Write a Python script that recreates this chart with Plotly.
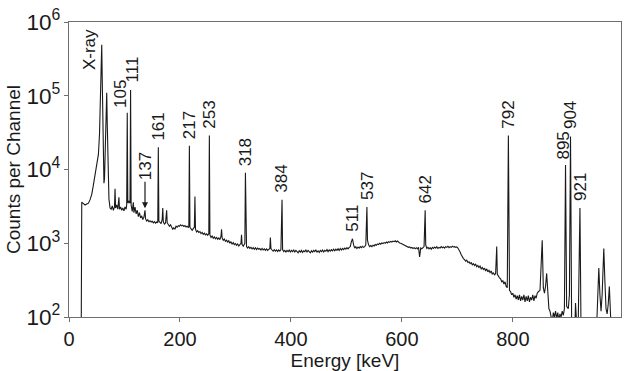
import math
import plotly.graph_objects as go

# ---- spectrum data (energy in keV, counts per channel) ----
energy_kev = [
    22, 23, 26, 29, 32, 35, 38, 41, 44, 47, 50, 53, 55, 57, 59, 60, 61, 62, 63, 64, 66, 68, 69, 71, 72, 74,
    76, 78, 80, 82, 83, 84, 86, 88, 90, 91, 93, 95, 97, 99, 101, 103, 104, 105, 106, 108, 110, 111, 112, 114,
    116, 117, 119, 121, 123, 125, 127, 129, 131, 133, 135, 137, 138, 140, 142, 144, 146, 148, 150, 152,
    154, 156, 158, 160, 161, 162, 164, 166, 168, 169, 170, 172, 174, 176, 177, 179, 181, 183, 185, 187,
    189, 191, 193, 195, 197, 199, 201, 203, 205, 207, 209, 211, 213, 215, 216, 217, 218, 220, 222, 224,
    226, 227, 228, 230, 232, 234, 236, 238, 240, 242, 244, 246, 248, 250, 252, 253, 254, 256, 258, 260,
    262, 264, 266, 268, 270, 272, 274, 275, 276, 278, 280, 282, 284, 286, 288, 290, 292, 294, 296, 298,
    300, 302, 304, 306, 308, 310, 311, 312, 314, 316, 317, 318, 319, 320, 322, 324, 326, 328, 330, 332,
    334, 336, 338, 340, 342, 344, 346, 348, 350, 352, 354, 356, 358, 360, 362, 363, 364, 366, 368, 370,
    372, 374, 376, 378, 380, 382, 384, 385, 387, 389, 391, 393, 395, 397, 399, 401, 403, 405, 407, 409,
    411, 413, 415, 417, 419, 421, 423, 425, 427, 429, 431, 433, 435, 437, 439, 441, 443, 445, 447, 449,
    451, 453, 455, 457, 459, 461, 463, 465, 467, 469, 471, 473, 475, 477, 479, 481, 483, 485, 487, 489,
    491, 493, 495, 497, 499, 501, 503, 505, 507, 509, 511, 513, 515, 517, 519, 521, 523, 525, 527, 529,
    531, 533, 535, 537, 538, 540, 542, 544, 546, 548, 550, 552, 554, 556, 558, 560, 562, 564, 566, 568,
    570, 572, 574, 576, 578, 580, 582, 584, 586, 588, 590, 592, 594, 596, 598, 600, 602, 604, 606, 608,
    610, 612, 614, 616, 618, 620, 622, 624, 626, 628, 630, 632, 634, 636, 638, 640, 642, 643, 645, 647,
    649, 651, 653, 655, 657, 659, 661, 663, 665, 667, 669, 671, 673, 675, 677, 679, 681, 683, 685, 687,
    689, 691, 693, 695, 697, 699, 701, 703, 705, 707, 709, 711, 713, 715, 717, 719, 721, 723, 725, 727,
    729, 731, 733, 735, 737, 739, 741, 743, 745, 747, 749, 751, 753, 755, 757, 759, 761, 763, 765, 767,
    769, 771, 772, 774, 776, 778, 780, 782, 784, 786, 788, 790, 792, 794, 796, 798, 800, 802, 804, 806,
    808, 810, 812, 814, 816, 818, 820, 822, 824, 826, 828, 830, 832, 834, 836, 838, 840, 842, 844, 846,
    849, 853, 855, 857, 859, 861, 863, 865, 867, 869, 871, 873, 875, 877, 879, 881, 883, 885, 887, 889,
    891, 893, 895, 897, 900, 902, 904, 906, 908, 910, 912, 913, 914, 916, 918, 921, 923, 925, 930, 940,
    946, 949, 951, 953, 955, 957, 959, 961, 964, 966, 968, 970, 972, 974, 976, 978,
]
counts = [
    60, 3600, 3450, 3300, 3400, 3500, 3900, 4600, 6200, 8500, 10500, 16000, 30000, 120000, 490000, 150000, 40000, 9000, 6500, 7500, 30000, 110000, 40000, 8000, 4000, 3000,
    2900, 3200, 2800, 3100, 5500, 3000, 3300, 2900, 4200, 2900, 3100, 2800, 3000, 2750, 3100, 2900, 3300, 59000, 3500, 3700, 3500, 120000, 3300, 2700,
    3600, 2600, 3100, 2500, 2800, 2300, 2600, 2200, 2350, 2100, 2250, 2800, 2150, 2000, 2080, 1960, 2020, 1940, 1990, 1890,
    1960, 1870, 1940, 1900, 20000, 2000, 1880, 1840, 2100, 3000, 1950, 1820, 1880, 2800, 1900, 1760, 1700, 1780, 1620, 1550,
    1620, 1560, 1700, 1650, 1730, 1700, 1780, 1720, 1760, 1690, 1740, 1660, 1700, 1640, 1700, 21000, 1650, 1550, 1500, 1580,
    1650, 4300, 1550, 1420, 1480, 1400, 1440, 1350, 1400, 1320, 1370, 1300, 1340, 1280, 1350, 29000, 1300, 1200, 1250, 1170,
    1220, 1150, 1200, 1130, 1180, 1120, 1250, 1550, 1180, 1100, 1140, 1060, 1100, 1040, 1080, 1000, 1050, 970, 1020, 960,
    990, 940, 980, 920, 960, 1000, 1300, 960, 910, 950, 1000, 9000, 1050, 900, 860, 900, 850, 880, 840, 870,
    830, 870, 820, 860, 830, 850, 810, 850, 810, 840, 800, 840, 800, 830, 850, 1200, 850, 810, 780, 820,
    780, 810, 770, 810, 780, 820, 3900, 820, 770, 800, 760, 800, 770, 810, 760, 800, 770, 810, 760, 800,
    780, 740, 790, 760, 800, 750, 790, 770, 810, 760, 800, 770, 740, 790, 760, 800, 770, 810, 760, 790,
    750, 800, 770, 810, 760, 800, 780, 820, 770, 810, 780, 820, 790, 830, 790, 830, 800, 840, 800, 850,
    810, 850, 820, 860, 830, 870, 840, 880, 900, 1050, 1150, 950, 860, 900, 850, 890, 860, 900, 870, 910,
    880, 900, 950, 3100, 1100, 950, 900, 930, 900, 940, 920, 960, 940, 980, 960, 1000, 970, 1010, 990, 1020,
    1000, 1040, 1010, 1050, 1030, 1060, 1040, 1070, 1050, 1080, 1040, 1070, 1030, 1010, 1000, 980, 960, 950, 930, 920,
    900, 880, 890, 860, 880, 850, 870, 840, 870, 840, 880, 650, 860, 840, 870, 900, 2800, 950, 850, 880,
    840, 870, 830, 880, 850, 890, 860, 900, 850, 880, 860, 900, 870, 890, 860, 900, 880, 910, 870, 900,
    880, 910, 890, 900, 880, 890, 860, 820, 760, 700, 650, 620, 600, 570, 590, 550, 560, 530, 545, 510,
    530, 500, 520, 480, 500, 470, 490, 450, 470, 440, 460, 420, 450, 410, 430, 400, 420, 380, 400, 370,
    390, 900, 380, 350, 340, 330, 300, 310, 280, 300, 260, 250, 29000, 230, 220, 200, 210, 185, 200, 175,
    195, 170, 200, 165, 190, 170, 200, 160, 190, 165, 195, 160, 185, 170, 200, 165, 195, 180, 210, 220,
    230, 1100, 250, 210, 260, 390, 200, 130, 120, 105, 85, 115, 100, 120, 95, 115, 90, 110, 100, 120,
    105, 130, 11500, 140, 130, 200, 28000, 90, 70, 100, 80, 155, 70, 60, 90, 3000, 60, 50, 50, 50,
    60, 100, 70, 200, 460, 200, 120, 200, 850, 300, 130, 110, 150, 260, 120, 50,
]

# ---- peak labels ----
label_text = ["X-ray", "105", "111", "137", "161", "217", "253", "318", "384",
              "511", "537", "642", "792", "895", "904", "921"]
label_energy = [59, 105, 111, 137, 161, 217, 253, 318, 384, 511, 537, 642, 792, 895, 904, 921]
label_counts = [490000, 59000, 120000, 2800, 20000, 21000, 29000, 9000, 3900,
                1150, 3100, 2800, 29000, 11500, 28000, 3000]

x_ticks = [0, 200, 400, 600, 800]

# ---- styling ----
FONT = "Liberation Sans, Arial, Helvetica, sans-serif"
AXIS_COLOR = "#6e6e6e"
TEXT_COLOR = "#1a1a1a"
label_offsets = {  # (xshift px, yshift px)
    "X-ray": (-12, -27), "105": (-7, 3), "111": (2, 5), "895": (-3, 3),
}

fig = go.Figure()
fig.add_trace(go.Scatter(
    x=energy_kev, y=counts, mode="lines",
    line=dict(color=TEXT_COLOR, width=1.1), hoverinfo="skip", showlegend=False,
))

for txt, e, c in zip(label_text, label_energy, label_counts):
    ylog = math.log10(c)  # annotations on a log axis are placed in log10 units
    if txt == "137":
        fig.add_annotation(
            x=e, y=ylog, xref="x", yref="y", text=txt, textangle=-90,
            showarrow=True, arrowhead=2, arrowsize=1, arrowwidth=1.2,
            arrowcolor=TEXT_COLOR, ax=0, ay=-44, standoff=2,
            font=dict(family=FONT, size=17, color=TEXT_COLOR),
        )
        continue
    dx, dy = label_offsets.get(txt, (0, 5))
    fig.add_annotation(
        x=e, y=ylog, xref="x", yref="y", text=txt, textangle=-90,
        showarrow=False, xanchor="center", yanchor="bottom",
        xshift=dx, yshift=dy,
        font=dict(family=FONT, size=17, color=TEXT_COLOR),
    )

fig.update_layout(
    width=630, height=371,
    margin=dict(l=69, r=9, t=22, b=54, autoexpand=False),
    paper_bgcolor="white", plot_bgcolor="white",
    font=dict(family=FONT, size=19, color=TEXT_COLOR),
    showlegend=False,
)
fig.update_xaxes(
    range=[0, 995], tickvals=x_ticks, ticktext=[str(v) for v in x_ticks],
    showgrid=False, zeroline=False, automargin=False,
    showline=True, linecolor=AXIS_COLOR, linewidth=1.3, mirror=True,
    ticks="outside", ticklen=4, tickcolor=AXIS_COLOR, tickwidth=1.2,
    tickfont=dict(size=20),
    title=dict(text="Energy [keV]", font=dict(size=19), standoff=0),
)
fig.update_yaxes(
    type="log", range=[2, 6], dtick=1, exponentformat="power",
    showgrid=False, zeroline=False, automargin=False,
    showline=True, linecolor=AXIS_COLOR, linewidth=1.3, mirror=True,
    ticks="outside", ticklen=4, tickcolor=AXIS_COLOR, tickwidth=1.2,
    tickfont=dict(size=18),
    title=dict(text="Counts per Channel", font=dict(size=19), standoff=0),
)

fig.write_html(
    "out.html",
    config={"displayModeBar": False},
    post_script="document.body.style.margin='0';document.body.style.overflow='hidden';",
)
